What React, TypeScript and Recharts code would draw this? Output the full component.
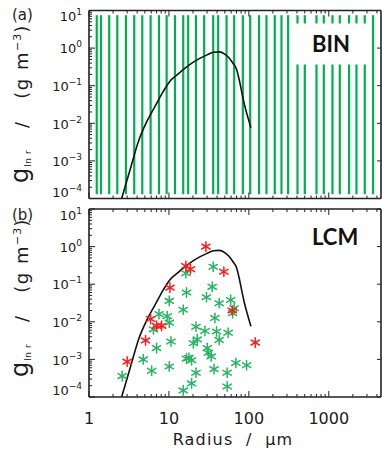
import React from 'react';
import { ComposedChart, XAxis, YAxis, Line, Scatter, ReferenceLine } from 'recharts';

const FONT = '"DejaVu Sans", Verdana, sans-serif';
const BOLD_FONT = 'Lato, "Open Sans", sans-serif';
const TXT = '#1c1c1c';
const AX = '#222222';
const BIN_GREEN = '#00b050';
const PT_GREEN = '#27b463';
const PT_RED = '#ff1a1a';

// ---- axis ticks ----
const xMajor = [1, 10, 100, 1000];
const xTicks = [
  1, 2, 3, 4, 5, 6, 7, 8, 9,
  10, 20, 30, 40, 50, 60, 70, 80, 90,
  100, 200, 300, 400, 500, 600, 700, 800, 900,
  1000, 2000, 3000, 4000,
];
const yMajor = [1e-4, 1e-3, 1e-2, 1e-1, 1, 10];
const yTicks = [
  1e-4, 2e-4, 3e-4, 4e-4, 5e-4, 6e-4, 7e-4, 8e-4, 9e-4,
  1e-3, 2e-3, 3e-3, 4e-3, 5e-3, 6e-3, 7e-3, 8e-3, 9e-3,
  1e-2, 2e-2, 3e-2, 4e-2, 5e-2, 6e-2, 7e-2, 8e-2, 9e-2,
  0.1, 0.2, 0.3, 0.4, 0.5, 0.6, 0.7, 0.8, 0.9,
  1, 2, 3, 4, 5, 6, 7, 8, 9, 10,
];

// ---- (a) BIN: bin boundaries (radius, µm) ----
const binEdges = [
  1.25, 1.41, 1.79, 2.26, 2.9, 3.68, 4.64, 5.9, 7.5, 9.36, 11.9, 15.1, 17.4,
  21.8, 27.6, 35.8, 41.3, 52.6, 65.5, 84.1, 104, 134, 166, 211, 256, 310,
  406, 501, 702, 866, 1112, 1373, 1794, 2220, 2818, 3580,
];
const binLow = 1.3e-4;
const binHigh = 7.5;

// ---- reference size distribution curve ----
const curveR = [2.56, 3.3, 4.2, 5.3, 6.7, 8.5, 10.3, 12.5, 15.5, 20, 25, 30, 36, 42, 48, 56, 63, 70, 76, 82, 88, 96, 106];
const curveG = [1e-4, 6.3e-4, 3.55e-3, 0.0112, 0.0282, 0.0708, 0.132, 0.19, 0.28, 0.417, 0.55, 0.66, 0.776, 0.794, 0.733, 0.56, 0.4, 0.28, 0.14, 0.063, 0.0316, 0.0158, 0.0076];

// ---- (b) LCM: super-droplets ----
const redR = [3.0, 5.1, 5.9, 7.0, 8.1, 10.3, 16.3, 18.6, 29, 48.7, 62, 120];
const redG = [0.00087, 0.0032, 0.0119, 0.0078, 0.0078, 0.081, 0.305, 0.25, 1.0, 0.215, 0.02, 0.0028];

const greenR = [
  2.6, 4.77, 6.08, 6.4, 7.0, 7.5, 9.5, 10.1, 10.1, 10.6, 10.1, 15.1, 16.3, 16.6,
  15.1, 16.6, 17.8, 19.2, 19.2, 20.2, 21.8, 21.8, 22.6, 28.2, 29.5, 30.2, 31,
  33.8, 34.8, 35.8, 36.7, 37.6, 39.4, 42.5, 42.5, 53.5, 53.5, 55, 59.2, 62.7,
  65.5, 68.8, 93.6,
];
const greenG = [
  0.00036, 0.001, 0.0005, 0.0063, 0.002, 0.016, 0.014, 0.036, 0.0095, 0.003, 0.00065, 0.021, 0.195, 0.06,
  0.00015, 0.00105, 0.0011, 0.00095, 0.00023, 0.0027, 0.0074, 0.00044, 0.0034, 0.0057, 0.045, 0.002, 0.0015,
  0.0012, 0.085, 0.29, 0.00055, 0.0126, 0.0055, 0.031, 0.0033, 0.00044, 0.00019, 0.0051, 0.038, 0.017,
  0.023, 0.0008, 0.0007,
];

const curveData = curveR.map((r, i) => ({ r, v: curveG[i] }));
const redData = redR.map((r, i) => ({ r, v: redG[i] }));
const greenData = greenR.map((r, i) => ({ r, v: greenG[i] }));

const isMajor = (v: number, majors: number[]) => majors.some((m) => Math.abs(v / m - 1) < 1e-6);

function BottomTick(props: any) {
  const { x, y, payload, labels } = props;
  const v = payload.value;
  const major = isMajor(v, xMajor);
  return (
    <g>
      <line x1={x} y1={y} x2={x} y2={y - (major ? 6 : 3)} stroke={AX} strokeWidth={1} />
      {labels && major && (
        <text x={x} y={y + 27} textAnchor="middle" fontFamily={FONT} fontSize={16} fill={TXT}>
          {v}
        </text>
      )}
    </g>
  );
}

function TopTick(props: any) {
  const { x, y, payload } = props;
  const major = isMajor(payload.value, xMajor);
  return <line x1={x} y1={y} x2={x} y2={y + (major ? 6 : 3)} stroke={AX} strokeWidth={1} />;
}

function LeftTick(props: any) {
  const { x, y, payload, topShift } = props;
  const v = payload.value;
  const major = isMajor(v, yMajor);
  const e = Math.round(Math.log10(v));
  let ty = y + 5.2;
  if (major && e === 1) ty = y + topShift;
  if (major && e === -4) ty = y - 2;
  const exp = e < 0 ? '\u2212' + -e : String(e);
  return (
    <g>
      <line x1={x} y1={y} x2={x + (major ? 6 : 3)} y2={y} stroke={AX} strokeWidth={1} />
      {major && (
        <text x={x - 7} y={ty} textAnchor="end" fontFamily={FONT} fontSize={13} fill={TXT}>
          10
          <tspan dy={-6} fontSize={9}>
            {exp}
          </tspan>
        </text>
      )}
    </g>
  );
}

function RightTick(props: any) {
  const { x, y, payload } = props;
  if (!isMajor(payload.value, yMajor)) return <g />;
  return <line x1={x} y1={y} x2={x - 4} y2={y} stroke={AX} strokeWidth={1} />;
}

function Asterisk(props: any) {
  const { cx, cy, color } = props;
  if (cx == null || cy == null) return <g />;
  const r = 4.8;
  const dx = r * Math.cos(Math.PI / 6);
  const dy = r * Math.sin(Math.PI / 6);
  return (
    <g stroke={color} strokeWidth={1.5} strokeLinecap="round">
      <line x1={cx} y1={cy - r} x2={cx} y2={cy + r} />
      <line x1={cx - dx} y1={cy - dy} x2={cx + dx} y2={cy + dy} />
      <line x1={cx - dx} y1={cy + dy} x2={cx + dx} y2={cy - dy} />
    </g>
  );
}

function renderAxes(labels: boolean, topShift: number) {
  const axisLine = { stroke: AX, strokeWidth: 1.6 };
  return [
    <XAxis
      key="xb"
      xAxisId="b"
      type="number"
      dataKey="r"
      scale="log"
      domain={[1, 4500]}
      allowDataOverflow
      ticks={xTicks}
      interval={0}
      height={1}
      tickSize={0}
      tickMargin={0}
      tickLine={false}
      axisLine={axisLine}
      tick={(p: any) => <BottomTick {...p} labels={labels} />}
    />,
    <XAxis
      key="xt"
      xAxisId="t"
      orientation="top"
      type="number"
      dataKey="r"
      scale="log"
      domain={[1, 4500]}
      allowDataOverflow
      ticks={xTicks}
      interval={0}
      height={1}
      tickSize={0}
      tickMargin={0}
      tickLine={false}
      axisLine={axisLine}
      tick={(p: any) => <TopTick {...p} />}
    />,
    <YAxis
      key="yl"
      yAxisId="l"
      type="number"
      dataKey="v"
      scale="log"
      domain={[1e-4, 10]}
      allowDataOverflow
      ticks={yTicks}
      interval={0}
      width={1}
      tickSize={0}
      tickMargin={0}
      tickLine={false}
      axisLine={axisLine}
      tick={(p: any) => <LeftTick {...p} topShift={topShift} />}
    />,
    <YAxis
      key="yr"
      yAxisId="r"
      orientation="right"
      type="number"
      dataKey="v"
      scale="log"
      domain={[1e-4, 10]}
      allowDataOverflow
      ticks={yTicks}
      interval={0}
      width={1}
      tickSize={0}
      tickMargin={0}
      tickLine={false}
      axisLine={axisLine}
      tick={(p: any) => <RightTick {...p} />}
    />,
  ];
}

function YTitle({ bottomY }: { bottomY: number }) {
  return (
    <g transform={`translate(28, ${bottomY}) rotate(-90)`}>
      <text x={0} y={0} fontFamily={FONT} fontSize={18} fill={TXT} style={{ whiteSpace: 'pre' }}>
        <tspan fontSize={24}>g</tspan>
        <tspan fontSize={9} dx={1} dy={3} letterSpacing={0.6}>ln r</tspan>
        <tspan dy={-3} letterSpacing={1.5}>{'   /   (g m'}</tspan>
        <tspan fontSize={11} dy={-7} letterSpacing={1}>{'\u22123'}</tspan>
        <tspan dy={7}>)</tspan>
      </text>
    </g>
  );
}

export default function App() {
  return (
    <div style={{ position: 'absolute', left: 0, top: 0, width: 382, height: 451, background: '#fff', overflow: 'hidden' }}>
      <div style={{ position: 'absolute', left: 0, top: 0 }}>
        <ComposedChart width={382} height={205} margin={{ top: 9.5, right: 0, bottom: 5.5, left: 88 }}>
          {renderAxes(false, 10.5)}
          {binEdges.map((r) => (
            <ReferenceLine
              key={'bin' + r}
              xAxisId="b"
              yAxisId="l"
              segment={[
                { x: r, y: binLow },
                { x: r, y: binHigh },
              ]}
              stroke={BIN_GREEN}
              strokeWidth={2.2}
            />
          ))}
          <Line
            xAxisId="b"
            yAxisId="l"
            data={curveData}
            dataKey="v"
            type="monotone"
            stroke="#111"
            strokeWidth={1.6}
            dot={false}
            isAnimationActive={false}
          />
        </ComposedChart>
      </div>
      <div style={{ position: 'absolute', left: 0, top: 200 }}>
        <ComposedChart width={382} height={251} margin={{ top: 8, right: 0, bottom: 53, left: 88 }}>
          {renderAxes(true, 11)}
          <Line
            xAxisId="b"
            yAxisId="l"
            data={curveData}
            dataKey="v"
            type="monotone"
            stroke="#111"
            strokeWidth={1.6}
            dot={false}
            isAnimationActive={false}
          />
          <Scatter
            xAxisId="b"
            yAxisId="l"
            data={greenData}
            isAnimationActive={false}
            shape={(p: any) => <Asterisk {...p} color={PT_GREEN} />}
          />
          <Scatter
            xAxisId="b"
            yAxisId="l"
            data={redData}
            isAnimationActive={false}
            shape={(p: any) => <Asterisk {...p} color={PT_RED} />}
          />
        </ComposedChart>
      </div>
      <svg
        width={382}
        height={451}
        style={{ position: 'absolute', left: 0, top: 0, pointerEvents: 'none' }}
      >
        <text x={12} y={20} fontFamily={FONT} fontSize={15} fill={TXT}>(a)</text>
        <text x={12} y={220} fontFamily={FONT} fontSize={15} fill={TXT}>(b)</text>
        <YTitle bottomY={183} />
        <YTitle bottomY={377} />
        <rect x={294} y={23.5} width={77} height={41} fill="#fff" />
        <text x={312} y={52} fontFamily={BOLD_FONT} fontWeight={700} fontSize={22} fill="#111">BIN</text>
        <text x={312} y={245} fontFamily={BOLD_FONT} fontWeight={700} fontSize={22} fill="#111">LCM</text>
        <text
          x={233}
          y={445}
          textAnchor="middle"
          fontFamily={FONT}
          fontSize={16}
          letterSpacing={1.2}
          fill={TXT}
          style={{ whiteSpace: 'pre' }}
        >
          {'Radius  /  \u03bcm'}
        </text>
      </svg>
    </div>
  );
}
